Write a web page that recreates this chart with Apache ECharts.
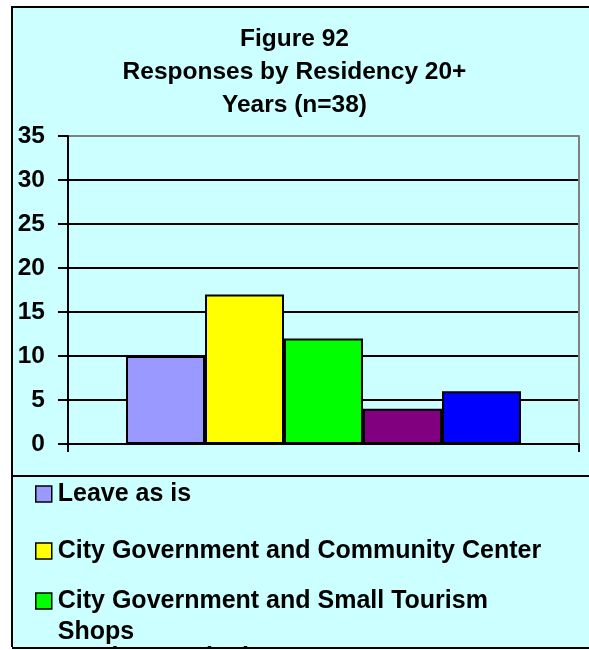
<!DOCTYPE html>
<html>
<head>
<meta charset="utf-8">
<script src="https://cdn.jsdelivr.net/npm/echarts@6/dist/echarts.min.js"></script>
<style>
html,body{margin:0;padding:0;background:#ffffff;}
#chart{width:589px;height:650px;}
</style>
</head>
<body>
<div id="chart"></div>
<script>
// ---- data ----
var titleLines = ['Figure 92', 'Responses by Residency 20+', 'Years (n=38)'];
var seriesNames = ['Leave as is', 'City Government and Community Center', 'City Government and Small Tourism Shops', 'Tourism Marketing', 'Other'];
var seriesValues = [10, 17, 12, 4, 6];
var seriesColors = ['#9999FF', '#FFFF00', '#00FF00', '#800080', '#0000FF'];
var yTicks = { min: 0, max: 35, interval: 5 };
var legendWrapped = {
  'City Government and Small Tourism Shops': '\nCity Government and Small Tourism\nShops'
};

// ---- style ----
var FONT = '"Liberation Sans", Arial, sans-serif';
var FS = 24.5;
var LFS = 25;
var LH = 31;
var legendCenters = [494, 551, 601, 658, 716];

var chart = echarts.init(document.getElementById('chart'), null, {renderer: 'canvas'});

var series = seriesNames.map(function (n, i) {
  return {
    name: n,
    type: 'bar',
    data: [seriesValues[i]],
    barWidth: 79,
    barGap: '0%',
    itemStyle: { color: seriesColors[i], borderColor: '#000000', borderWidth: 2 },
    emphasis: { disabled: true }
  };
});

var legends = seriesNames.map(function (n, i) {
  var lines = (legendWrapped[n] || n).split('\n').length;
  return {
    data: [n],
    orient: 'vertical',
    left: 35,
    top: legendCenters[i] - lines * LH / 2,
    padding: 0,
    itemWidth: 16,
    itemHeight: 16,
    itemGap: 0,
    icon: 'rect',
    selectedMode: false,
    itemStyle: { borderColor: '#000000', borderWidth: 1.5 },
    formatter: function (name) { return legendWrapped[name] || name; },
    textStyle: {
      fontFamily: FONT, fontSize: LFS, fontWeight: 'bold', color: '#000000',
      lineHeight: LH, padding: [0, 0, 0, 1]
    }
  };
});

var splitColors = [];
for (var v = yTicks.min; v <= yTicks.max; v += yTicks.interval) {
  splitColors.push(v === yTicks.max ? '#808080' : '#000000');
}

chart.setOption({
  backgroundColor: '#ffffff',
  animation: false,
  title: {
    text: titleLines.join('\n'),
    left: 'center',
    top: 23,
    padding: 0,
    textStyle: { fontFamily: FONT, fontSize: FS, fontWeight: 'bold', color: '#000000', lineHeight: 33 }
  },
  graphic: [
    { type: 'rect', z: -100, shape: { x: 12, y: 7, width: 620, height: 700 },
      style: { fill: '#CCFFFF', stroke: '#000000', lineWidth: 2 }, silent: true },
    { type: 'line', z: 100, shape: { x1: 12, y1: 476, x2: 620, y2: 476 },
      style: { stroke: '#000000', lineWidth: 2 }, silent: true },
    { type: 'rect', z: 100, shape: { x: 0, y: 647, width: 620, height: 10 },
      style: { fill: '#ffffff' }, silent: true },
    { type: 'line', z: 101, shape: { x1: 12, y1: 648, x2: 620, y2: 648 },
      style: { stroke: '#000000', lineWidth: 2 }, silent: true }
  ],
  legend: legends,
  grid: { left: 68, right: 10, top: 136, bottom: 206, containLabel: false },
  xAxis: {
    type: 'category',
    data: [''],
    boundaryGap: true,
    axisLine: { show: true, lineStyle: { color: '#000000', width: 2 } },
    axisTick: { show: true, length: 8, inside: false, lineStyle: { color: '#000000', width: 2 } },
    axisLabel: { show: false },
    splitLine: { show: false },
    z: 5
  },
  yAxis: [{
    type: 'value',
    min: yTicks.min, max: yTicks.max, interval: yTicks.interval,
    axisLine: { show: true, lineStyle: { color: '#000000', width: 2 } },
    axisTick: { show: true, length: 10, inside: false, lineStyle: { color: '#000000', width: 2 } },
    axisLabel: { fontFamily: FONT, fontSize: FS, fontWeight: 'bold', color: '#000000', margin: 23 },
    splitLine: { show: true, lineStyle: { color: splitColors, width: 2 } }
  }, {
    type: 'value',
    position: 'right',
    min: yTicks.min, max: yTicks.max, interval: yTicks.interval,
    axisLine: { show: true, lineStyle: { color: '#808080', width: 2 } },
    axisTick: { show: false },
    axisLabel: { show: false },
    splitLine: { show: false }
  }],
  series: series
});
</script>
</body>
</html>
